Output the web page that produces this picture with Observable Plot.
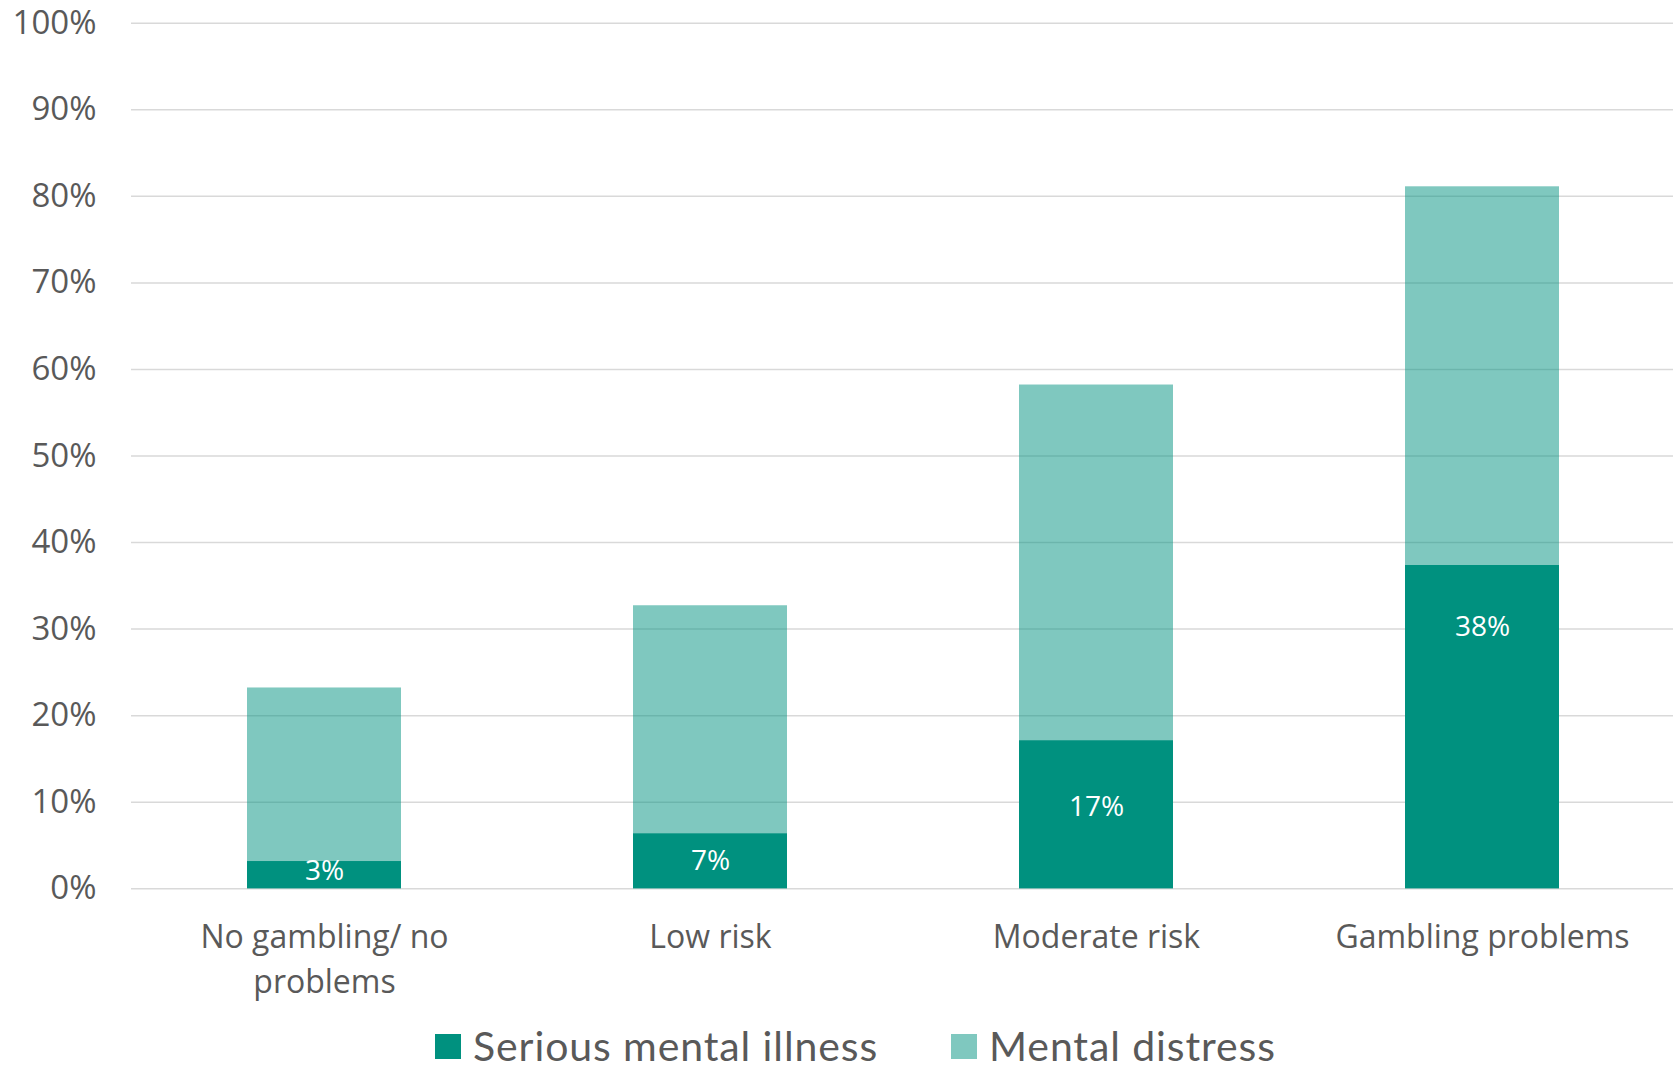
<!DOCTYPE html>
<html>
<head>
<meta charset="utf-8">
<script src="https://cdn.jsdelivr.net/npm/d3@7"></script>
<script src="https://cdn.jsdelivr.net/npm/@observablehq/plot@0.6"></script>
<style>
  html, body { margin: 0; padding: 0; background: #fff; overflow: hidden; }
  #wrap { position: relative; width: 1673px; height: 1071px; }
  #legend { position: absolute; left: 0; top: 1025px; width: 1673px; height: 42px;
            font-family: Lato, "Open Sans", sans-serif; font-size: 41px; line-height: 42px; letter-spacing: 0.9px; color: #595959; }
  .item { position: absolute; top: 0; display: flex; align-items: center; height: 42px; white-space: nowrap; }
  .item span { line-height: 42px; }
  .sw { width: 26px; height: 25px; margin-right: 12px; flex: none; }
</style>
</head>
<body>
<div id="wrap">
  <div id="chart"></div>
  <div id="legend"></div>
</div>
<script>
const categories = ["No gambling/ no problems", "Low risk", "Moderate risk", "Gambling problems"];
const categoryLabels = ["No gambling/ no\nproblems", "Low risk", "Moderate risk", "Gambling problems"];
const mentalDistress = [23.2, 32.7, 58.2, 81.1];
const seriousIllness = [3.15, 6.35, 17.1, 37.35];
const seriousLabels = ["3%", "7%", "17%", "38%"];
const labelAt = [2.0, 3.2, 9.4, 30.2];
const yTicks = [0, 10, 20, 30, 40, 50, 60, 70, 80, 90, 100];
const seriesNames = ["Serious mental illness", "Mental distress"];

const dark = "#00917f";

const table = categories.map((c, i) => ({
  cat: c,
  distress: mentalDistress[i],
  serious: seriousIllness[i],
  label: seriousLabels[i],
  labelAt: labelAt[i]
}));

const chart = Plot.plot({
  width: 1673,
  height: 1010,
  marginLeft: 131,
  marginRight: 0,
  marginTop: 22.7,
  marginBottom: 121.7,
  x: { domain: categories, range: [131, 1676], paddingInner: 0.6, paddingOuter: 0.3, label: null },
  y: { domain: [0, 100], label: null },
  style: { fontFamily: "'Open Sans', sans-serif", color: "#595959", background: "white" },
  marks: [
    Plot.ruleY(yTicks, { stroke: "#d9d9d9", strokeWidth: 1.5 }),
    Plot.barY(table, { x: "cat", y: "distress", fill: dark, fillOpacity: 0.5 }),
    Plot.barY(table, { x: "cat", y: "serious", fill: dark }),
    Plot.text(table, { x: "cat", y: "labelAt", text: "label", fill: "white", fontSize: 28 }),
    Plot.axisY({ ticks: yTicks, tickFormat: d => d + "%", tickSize: 0, tickPadding: 35, fontSize: 33, label: null }),
    Plot.axisX({ tickSize: 0, tickPadding: 27, fontSize: 32, lineHeight: 1.42, label: null,
                 tickFormat: d => categoryLabels[categories.indexOf(d)] })
  ]
});
document.getElementById("chart").appendChild(chart);

const legendColors = [dark, "rgba(0,145,127,0.5)"];
const legendLeft = [435, 951];
const legend = document.getElementById("legend");
seriesNames.forEach((name, i) => {
  const item = document.createElement("div");
  item.className = "item";
  item.style.left = legendLeft[i] + "px";
  const sw = document.createElement("div");
  sw.className = "sw";
  sw.style.background = legendColors[i];
  const t = document.createElement("span");
  t.textContent = name;
  item.appendChild(sw);
  item.appendChild(t);
  legend.appendChild(item);
});
</script>
</body>
</html>
